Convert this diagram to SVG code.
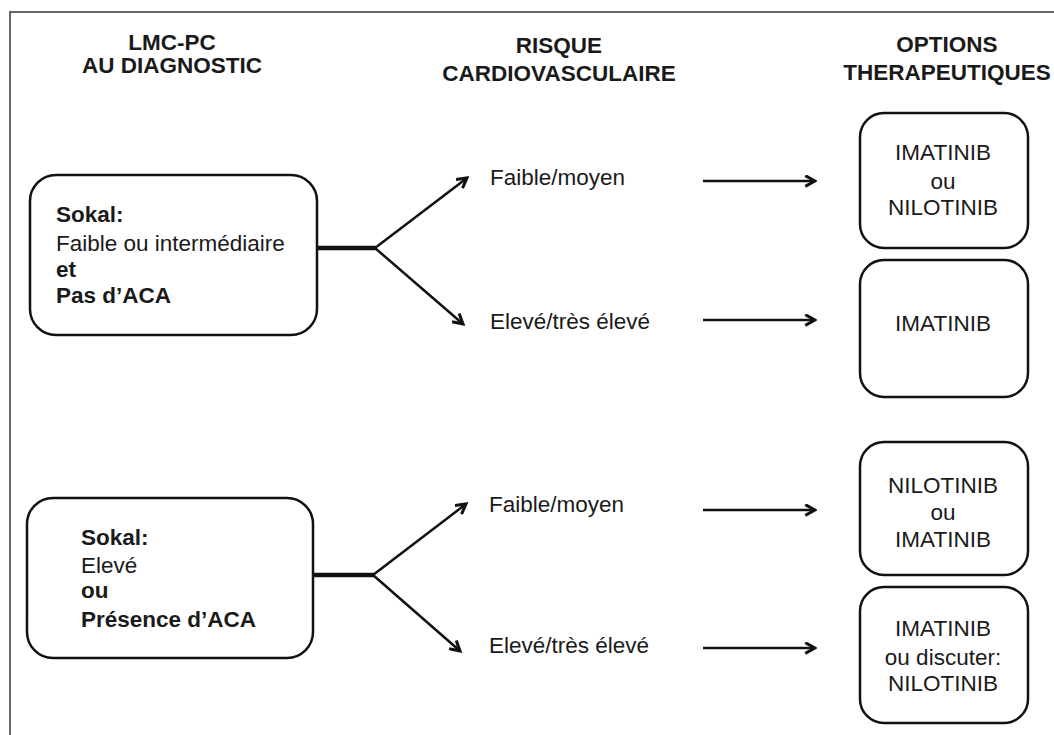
<svg xmlns="http://www.w3.org/2000/svg" width="1054" height="735" viewBox="0 0 1054 735">
<style>
  text { font-family: "Liberation Sans", Arial, sans-serif; fill: #1a1a1a; font-size: 22.5px; }
  .h { font-weight: bold; text-anchor: middle; }
  .b { font-weight: bold; }
  .c { text-anchor: middle; }
  .box { fill: #fff; stroke: #111; stroke-width: 2.5; }
  .stem { stroke: #111; stroke-width: 4.5; fill: none; }
  .arr { stroke: #111; stroke-width: 2.5; fill: none; marker-end: url(#ah); }
</style>
<defs>
  <marker id="ah" viewBox="0 0 12 12" refX="10" refY="6" markerWidth="13" markerHeight="13" markerUnits="userSpaceOnUse" orient="auto">
    <path d="M1,1 L10,6 L1,11" fill="none" stroke="#111" stroke-width="2.8" stroke-linejoin="miter"/>
  </marker>
</defs>
<rect width="1054" height="735" fill="#fff"/>
<path d="M10,740 L10,12 L1060,12" fill="none" stroke="#666" stroke-width="2"/>

<g id="headings">
  <text class="h" x="172" y="50">LMC-PC</text>
  <text class="h" x="172" y="73">AU DIAGNOSTIC</text>
  <text class="h" x="559" y="53">RISQUE</text>
  <text class="h" x="559" y="81">CARDIOVASCULAIRE</text>
  <text class="h" x="947" y="52">OPTIONS</text>
  <text class="h" x="947" y="80">THERAPEUTIQUES</text>
</g>

<g id="node-diag1">
  <rect class="box" x="30" y="175" width="287" height="160" rx="26"/>
  <text class="b" x="56" y="222">Sokal:</text>
  <text x="56" y="251">Faible ou intermédiaire</text>
  <text class="b" x="56" y="277">et</text>
  <text class="b" x="56" y="303">Pas d’ACA</text>
</g>

<g id="node-diag2">
  <rect class="box" x="27" y="498" width="286" height="160" rx="26"/>
  <text class="b" x="81" y="545">Sokal:</text>
  <text x="81" y="573">Elevé</text>
  <text class="b" x="81" y="598">ou</text>
  <text class="b" x="81" y="627">Présence d’ACA</text>
</g>

<g id="labels-risk">
  <text x="490" y="185">Faible/moyen</text>
  <text x="490" y="329">Elevé/très élevé</text>
  <text x="489" y="512">Faible/moyen</text>
  <text x="489" y="653">Elevé/très élevé</text>
</g>

<g id="node-opt1">
  <rect class="box" x="860" y="113" width="168" height="135" rx="24"/>
  <text class="c" x="943" y="160">IMATINIB</text>
  <text class="c" x="943" y="189">ou</text>
  <text class="c" x="943" y="215">NILOTINIB</text>
</g>
<g id="node-opt2">
  <rect class="box" x="860" y="260" width="168" height="137" rx="24"/>
  <text class="c" x="943" y="331">IMATINIB</text>
</g>
<g id="node-opt3">
  <rect class="box" x="860" y="442" width="168" height="133" rx="24"/>
  <text class="c" x="943" y="493">NILOTINIB</text>
  <text class="c" x="943" y="520">ou</text>
  <text class="c" x="943" y="547">IMATINIB</text>
</g>
<g id="node-opt4">
  <rect class="box" x="860" y="587" width="168" height="136" rx="24"/>
  <text class="c" x="943" y="636">IMATINIB</text>
  <text class="c" x="943" y="665">ou discuter:</text>
  <text class="c" x="943" y="691">NILOTINIB</text>
</g>

<g id="connectors">
  <line class="stem" x1="317" y1="248" x2="376" y2="248"/>
  <line class="arr" x1="375" y1="248" x2="467" y2="178"/>
  <line class="arr" x1="375" y1="248" x2="463" y2="324"/>
  <line class="stem" x1="313" y1="575" x2="374" y2="575"/>
  <line class="arr" x1="373" y1="575" x2="466" y2="504"/>
  <line class="arr" x1="373" y1="575" x2="460" y2="651"/>
  <line class="arr" x1="703" y1="181" x2="815" y2="181"/>
  <line class="arr" x1="703" y1="320" x2="815" y2="320"/>
  <line class="arr" x1="703" y1="510" x2="815" y2="510"/>
  <line class="arr" x1="703" y1="648" x2="815" y2="648"/>
</g>
</svg>
